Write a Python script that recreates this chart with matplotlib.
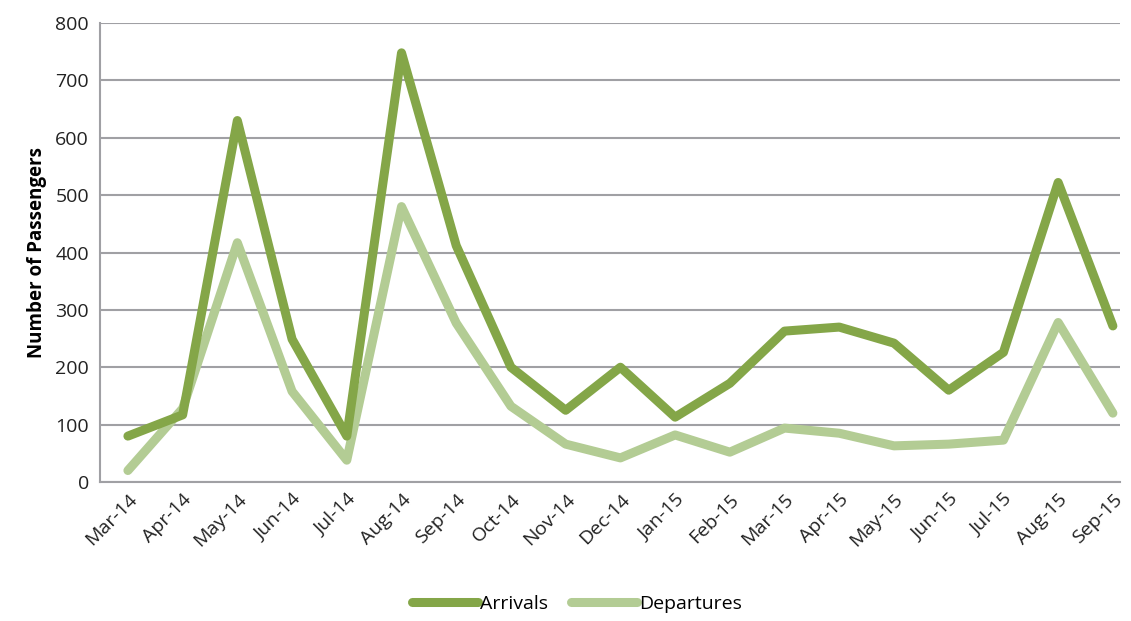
import numpy as np
import matplotlib
matplotlib.use("Agg")
import matplotlib.pyplot as plt

plt.rcParams['font.family'] = ['Open Sans', 'DejaVu Sans']

months = ["Mar-14", "Apr-14", "May-14", "Jun-14", "Jul-14", "Aug-14", "Sep-14",
          "Oct-14", "Nov-14", "Dec-14", "Jan-15", "Feb-15", "Mar-15", "Apr-15",
          "May-15", "Jun-15", "Jul-15", "Aug-15", "Sep-15"]
arrivals = [80, 117, 630, 249, 80, 748, 412, 200, 125, 200, 113, 172,
            263, 270, 242, 160, 226, 522, 272]
departures = [20, 128, 417, 158, 38, 480, 277, 132, 66, 42, 82, 52,
              94, 85, 63, 66, 73, 278, 120]

C_ARR = "#84a648"
C_DEP = "#b3cc94"
GRID = "#a0a0a4"

fig = plt.figure(figsize=(11.31, 6.21), dpi=100)
ax = fig.add_axes([100/1131, 1-482/621, 1020/1131, 459/621])

x = np.arange(len(months))
ax.plot(x, arrivals, color=C_ARR, lw=6.5, solid_capstyle="round",
        solid_joinstyle="round", label="Arrivals", zorder=3)
ax.plot(x, departures, color=C_DEP, lw=6.5, solid_capstyle="round",
        solid_joinstyle="round", label="Departures", zorder=2)

ax.set_ylim(0, 800)
ax.set_yticks(range(0, 801, 100))
ax.set_xlim(-0.51, 18.13)
ax.set_xticks(x)
ax.set_xticklabels(months, rotation=45, ha="right", rotation_mode="anchor")
ax.tick_params(axis="both", length=0, labelsize=14, colors="#222222")
ax.tick_params(axis="y", pad=8)
ax.tick_params(axis="x", pad=6)

ax.grid(axis="y", color=GRID, lw=1.5)
ax.set_axisbelow(True)
for s in ["top", "right"]:
    ax.spines[s].set_visible(False)
ax.spines["left"].set_color(GRID)
ax.spines["bottom"].set_color(GRID)
ax.spines["left"].set_linewidth(1.5)
ax.spines["bottom"].set_linewidth(1.5)

ax.set_ylabel("Number of Passengers", fontsize=13.5, fontweight="bold", labelpad=6)

fig.legend(loc="lower center", bbox_to_anchor=(0.51, -0.015), ncol=2, frameon=False,
           fontsize=14, handlelength=3.4, handletextpad=0.1, columnspacing=1.2)

fig.savefig("out.png", dpi=100)
